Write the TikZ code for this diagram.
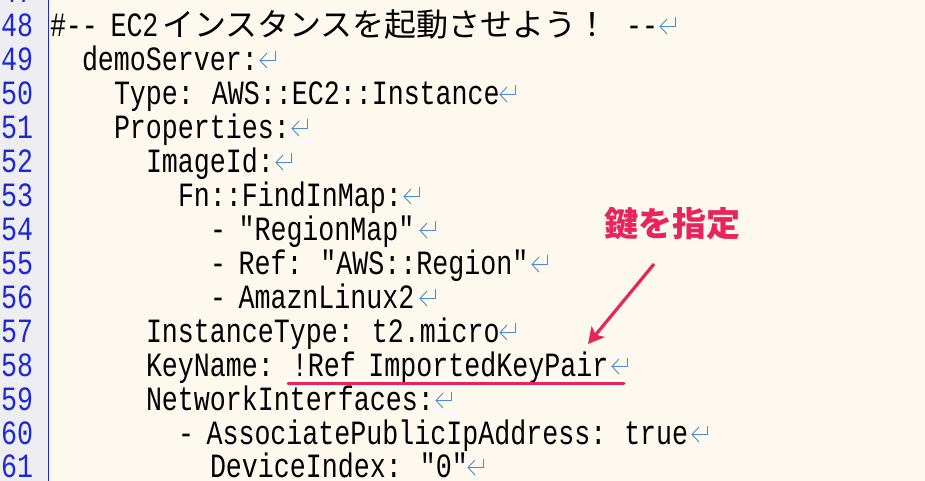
\documentclass[tikz,border=0pt]{standalone}
\usepackage{fontspec}
\usetikzlibrary{arrows.meta}
\newfontfamily\codefont[FakeStretch=0.784,WordSpace=0.784]{Liberation Mono}
\newfontfamily\jpfont{Noto Sans CJK JP}
\definecolor{bgcream}{HTML}{FDF9EF}
\definecolor{guttergray}{HTML}{EEEEF2}
\definecolor{numblue}{HTML}{1C28D8}
\definecolor{retblue}{HTML}{4A88D8}
\definecolor{markpink}{HTML}{E8245E}
\tikzset{
  code/.style={anchor=base west, inner sep=0pt, outer sep=0pt,
    font=\codefont\fontsize{34bp}{34bp}\selectfont, text=black},
  lnum/.style={anchor=base east, inner sep=0pt, outer sep=0pt,
    font=\codefont\fontsize{34bp}{34bp}\selectfont, text=numblue},
  jptext/.style={anchor=base west, inner sep=0pt, outer sep=0pt,
    font=\jpfont\fontsize{32bp}{32bp}\selectfont, text=black},
  note/.style={inner sep=0pt, outer sep=0pt,
    font=\jpfont\bfseries\fontsize{34bp}{34bp}\selectfont, text=markpink},
  retmark/.style={draw=retblue, line width=0.9bp},
  ret/.pic={
    \draw[retmark] (2,-10) -- (17,-10) -- (17,-19);
    \draw[retmark] (9,-17.5) -- (2,-10) -- (9,-2.5);
  },
  pinkline/.style={draw=markpink, line width=3bp, line cap=round},
  pinkarrow/.style={draw=markpink, line width=3.2bp,
    -{Stealth[length=16bp,width=17bp,inset=4bp]}}
}
\begin{document}
\begin{tikzpicture}[x=1bp,y=-1bp]
\useasboundingbox (0,0) rectangle (925,481);
\clip (0,0) rectangle (925,481);
\fill[bgcream] (0,0) rectangle (925,481);
\fill[guttergray] (0,0) rectangle (48,481);
\draw[numblue, line width=1.3bp] (48.3,0) -- (48.3,481);

% line numbers
\node[lnum] (n47) at (33,2.5) {47};
\node[lnum] (n48) at (33,36.5) {48};
\node[lnum] (n49) at (33,70.5) {49};
\node[lnum] (n50) at (33,104.5) {50};
\node[lnum] (n51) at (33,138.5) {51};
\node[lnum] (n52) at (33,172.5) {52};
\node[lnum] (n53) at (33,206.5) {53};
\node[lnum] (n54) at (33,240.5) {54};
\node[lnum] (n55) at (33,274.5) {55};
\node[lnum] (n56) at (33,308.5) {56};
\node[lnum] (n57) at (33,342.5) {57};
\node[lnum] (n58) at (33,376.5) {58};
\node[lnum] (n59) at (33,410.5) {59};
\node[lnum] (n60) at (33,444.5) {60};
\node[lnum] (n61) at (33,477.5) {61};

% code lines
\pic at (50,2.5) {ret};
\node[code] (t48a) at (50,36.5) {\#-\kern0pt- EC2};
\node[jptext] (t48b) at (162,36.5) {インスタンスを起動させよう！};
\node[code] (t48c) at (626,36.5) {-\kern0pt-};
\pic at (658,36.5) {ret};
\node[code] (t49) at (82,70.5) {demoServer:};
\pic at (258,70.5) {ret};
\node[code] (t50) at (114,104.5) {Type: AWS::EC2::Instance};
\pic at (498,104.5) {ret};
\node[code] (t51) at (114,138.5) {Properties:};
\pic at (290,138.5) {ret};
\node[code] (t52) at (146,172.5) {ImageId:};
\pic at (274,172.5) {ret};
\node[code] (t53) at (178,206.5) {Fn::FindInMap:};
\pic at (402,206.5) {ret};
\node[code] (t54) at (210,240.5) {- "RegionMap"};
\pic at (418,240.5) {ret};
\node[code] (t55) at (210,274.5) {- Ref: "AWS::Region"};
\pic at (530,274.5) {ret};
\node[code] (t56) at (210,308.5) {- AmaznLinux2};
\pic at (418,308.5) {ret};
\node[code] (t57) at (146,342.5) {InstanceType: t2.micro};
\pic at (498,342.5) {ret};
\node[code] (t58) at (146,376.5) {KeyName: !Ref ImportedKeyPair};
\pic at (610,376.5) {ret};
\node[code] (t59) at (146,410.5) {NetworkInterfaces:};
\pic at (434,410.5) {ret};
\node[code] (t60) at (178,444.5) {- AssociatePublicIpAddress: true};
\pic at (690,444.5) {ret};
\node[code] (t61) at (210,477.5) {DeviceIndex: "0"};
\pic at (466,477.5) {ret};

% annotation
\node[note] (callout) at (672,224) {鍵を指定};
\coordinate (arrowtail) at (654,264);
\coordinate (arrowtip) at (588,344);
\draw[pinkarrow] (arrowtail) -- (arrowtip);
\coordinate (ulstart) at (288,383.5);
\coordinate (ulend) at (624,383.5);
\draw[pinkline] (ulstart) -- (ulend);
\end{tikzpicture}
\end{document}
